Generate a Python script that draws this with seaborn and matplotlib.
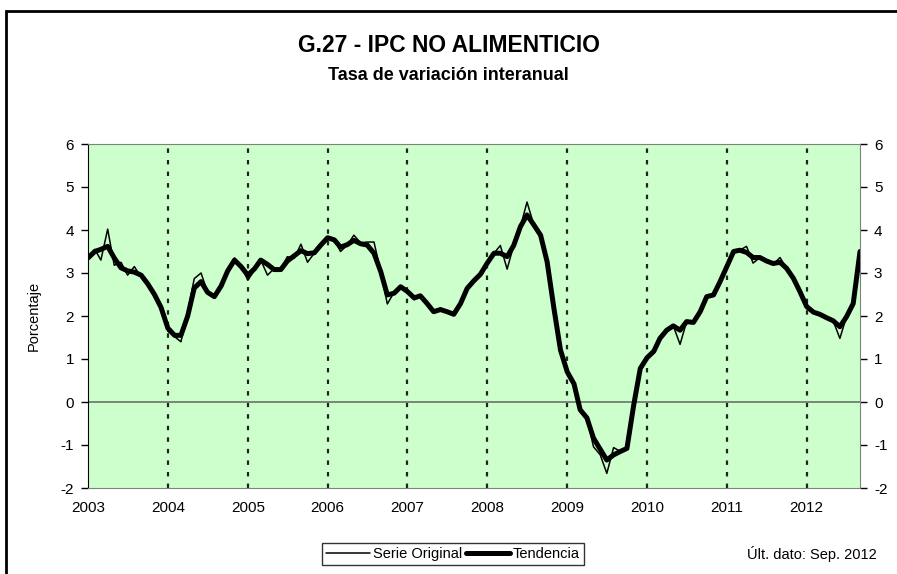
import numpy as np
import pandas as pd
import matplotlib
matplotlib.use("Agg")
import matplotlib.pyplot as plt
import matplotlib.dates as mdates
from matplotlib.patches import Rectangle
import seaborn as sns

# Datos mensuales ene-2003 .. sep-2012 (tasa de variacion interanual, %)
serie_original = [
    3.35, 3.55, 3.30, 4.02, 3.18, 3.25, 2.95, 3.15, 2.90, 2.70, 2.48, 2.17,  # 2003
    1.65, 1.52, 1.40, 2.10, 2.87, 3.00, 2.55, 2.42, 2.70, 3.05, 3.35, 3.18,  # 2004
    2.83, 3.07, 3.30, 2.95, 3.10, 3.10, 3.38, 3.34, 3.67, 3.25, 3.46, 3.65,  # 2005
    3.80, 3.77, 3.50, 3.65, 3.88, 3.70, 3.72, 3.72, 3.03, 2.28, 2.55, 2.70,  # 2006
    2.58, 2.38, 2.47, 2.29, 2.08, 2.18, 2.12, 2.03, 2.29, 2.64, 2.82, 2.97,  # 2007
    3.23, 3.46, 3.64, 3.09, 3.64, 4.08, 4.65, 4.12, 3.88, 3.26, 2.18, 1.21,  # 2008
    0.70, 0.40, -0.18, -0.37, -1.04, -1.23, -1.66, -1.06, -1.15, -1.04, -0.07, 0.78,  # 2009
    1.03, 1.18, 1.48, 1.67, 1.77, 1.34, 1.87, 1.83, 2.10, 2.45, 2.49, 2.80,  # 2010
    3.15, 3.50, 3.53, 3.62, 3.23, 3.36, 3.28, 3.20, 3.36, 3.11, 2.88, 2.57,  # 2011
    2.22, 2.09, 2.04, 1.96, 1.89, 1.48, 1.98, 2.29, 3.50,  # 2012
]
tendencia = [
    3.35, 3.50, 3.55, 3.62, 3.35, 3.12, 3.05, 3.02, 2.95, 2.75, 2.50, 2.20,
    1.72, 1.55, 1.55, 2.00, 2.65, 2.80, 2.55, 2.45, 2.70, 3.05, 3.30, 3.15,
    2.95, 3.10, 3.30, 3.20, 3.08, 3.08, 3.28, 3.40, 3.52, 3.45, 3.47, 3.65,
    3.82, 3.77, 3.60, 3.66, 3.76, 3.68, 3.65, 3.46, 3.03, 2.49, 2.53, 2.68,
    2.57, 2.42, 2.47, 2.29, 2.10, 2.15, 2.10, 2.04, 2.29, 2.64, 2.82, 2.97,
    3.23, 3.46, 3.46, 3.38, 3.64, 4.08, 4.35, 4.12, 3.88, 3.26, 2.18, 1.21,
    0.70, 0.42, -0.18, -0.37, -0.84, -1.10, -1.35, -1.23, -1.15, -1.08, -0.07, 0.78,
    1.03, 1.18, 1.48, 1.67, 1.77, 1.67, 1.87, 1.85, 2.10, 2.45, 2.49, 2.80,
    3.15, 3.50, 3.53, 3.48, 3.36, 3.36, 3.28, 3.22, 3.25, 3.11, 2.88, 2.57,
    2.22, 2.09, 2.04, 1.96, 1.89, 1.75, 1.98, 2.29, 3.50,
]
fechas = pd.date_range("2003-01-01", periods=len(serie_original), freq="MS")
anios = list(range(2003, 2013))
y_ticks = list(range(-2, 7))

df = pd.DataFrame({"fecha": fechas, "Serie Original": serie_original, "Tendencia": tendencia})

sns.set_style("white")
plt.rcParams["font.family"] = ["Liberation Sans", "DejaVu Sans"]
plt.rcParams["axes.unicode_minus"] = False
plt.rcParams["text.color"] = "black"
plt.rcParams["axes.labelcolor"] = "black"
plt.rcParams["xtick.color"] = "black"
plt.rcParams["ytick.color"] = "black"

fig = plt.figure(figsize=(8.97, 5.74), dpi=100)
ax = fig.add_axes([88 / 897, 1 - 488 / 574, (860 - 88) / 897, (488 - 144) / 574])
ax.set_facecolor("#CCFFCC")

# lineas verticales en cada enero
for a in anios[1:]:
    ax.axvline(pd.Timestamp(f"{a}-01-01"), color="#222222", lw=1.6, ls=(0, (2, 3.2)), zorder=1)
ax.axhline(0, color="#6f7f6f", lw=1.3, zorder=1)

sns.lineplot(data=df, x="fecha", y="Serie Original", ax=ax, color="black", lw=1.1, label="Serie Original", legend=False, zorder=3)
sns.lineplot(data=df, x="fecha", y="Tendencia", ax=ax, color="black", lw=3.6, label="Tendencia", legend=False, zorder=4)

ax.set_xlim(fechas[0], fechas[-1])
ax.set_ylim(-2, 6)
ax.set_yticks(y_ticks)
ax.set_xticks([pd.Timestamp(f"{a}-01-01") for a in anios])
ax.xaxis.set_major_formatter(mdates.DateFormatter("%Y"))
ax.tick_params(axis="x", length=0, pad=9, labelsize=11)
ax.tick_params(axis="y", length=5, width=1, direction="out", labelsize=11, pad=5,
               left=True, right=True, labelright=True)
ax.set_xlabel("")
ax.set_ylabel("Porcentaje", fontsize=10.5, labelpad=14)
for s in ["top", "right", "bottom"]:
    ax.spines[s].set_color("#808080")
ax.spines["left"].set_color("black")

fig.text(0.5, 1 - 45 / 574, "G.27 - IPC NO ALIMENTICIO", ha="center", va="center",
         fontsize=16.5, fontweight="bold")
fig.text(0.5, 1 - 76 / 574, "Tasa de variación interanual", ha="center", va="center",
         fontsize=13, fontweight="bold")

leg = fig.legend(loc="center", bbox_to_anchor=(453 / 897, 1 - 554 / 574), ncol=2,
                 fontsize=10.5, frameon=True, fancybox=False, edgecolor="black",
                 handlelength=3.0, columnspacing=0.3, handletextpad=0.2,
                 borderpad=0.3, borderaxespad=0)
leg.get_frame().set_linewidth(1.0)
fig.text(812 / 897, 1 - 554 / 574, "Últ. dato: Sep. 2012", ha="center", va="center", fontsize=10.5)

# marco exterior
fig.patches.append(Rectangle((6 / 897, -0.2), 1.2, 1.2 - 11 / 574, transform=fig.transFigure,
                             fill=False, edgecolor="black", lw=2, clip_on=False))

fig.savefig("out.png", dpi=100)
